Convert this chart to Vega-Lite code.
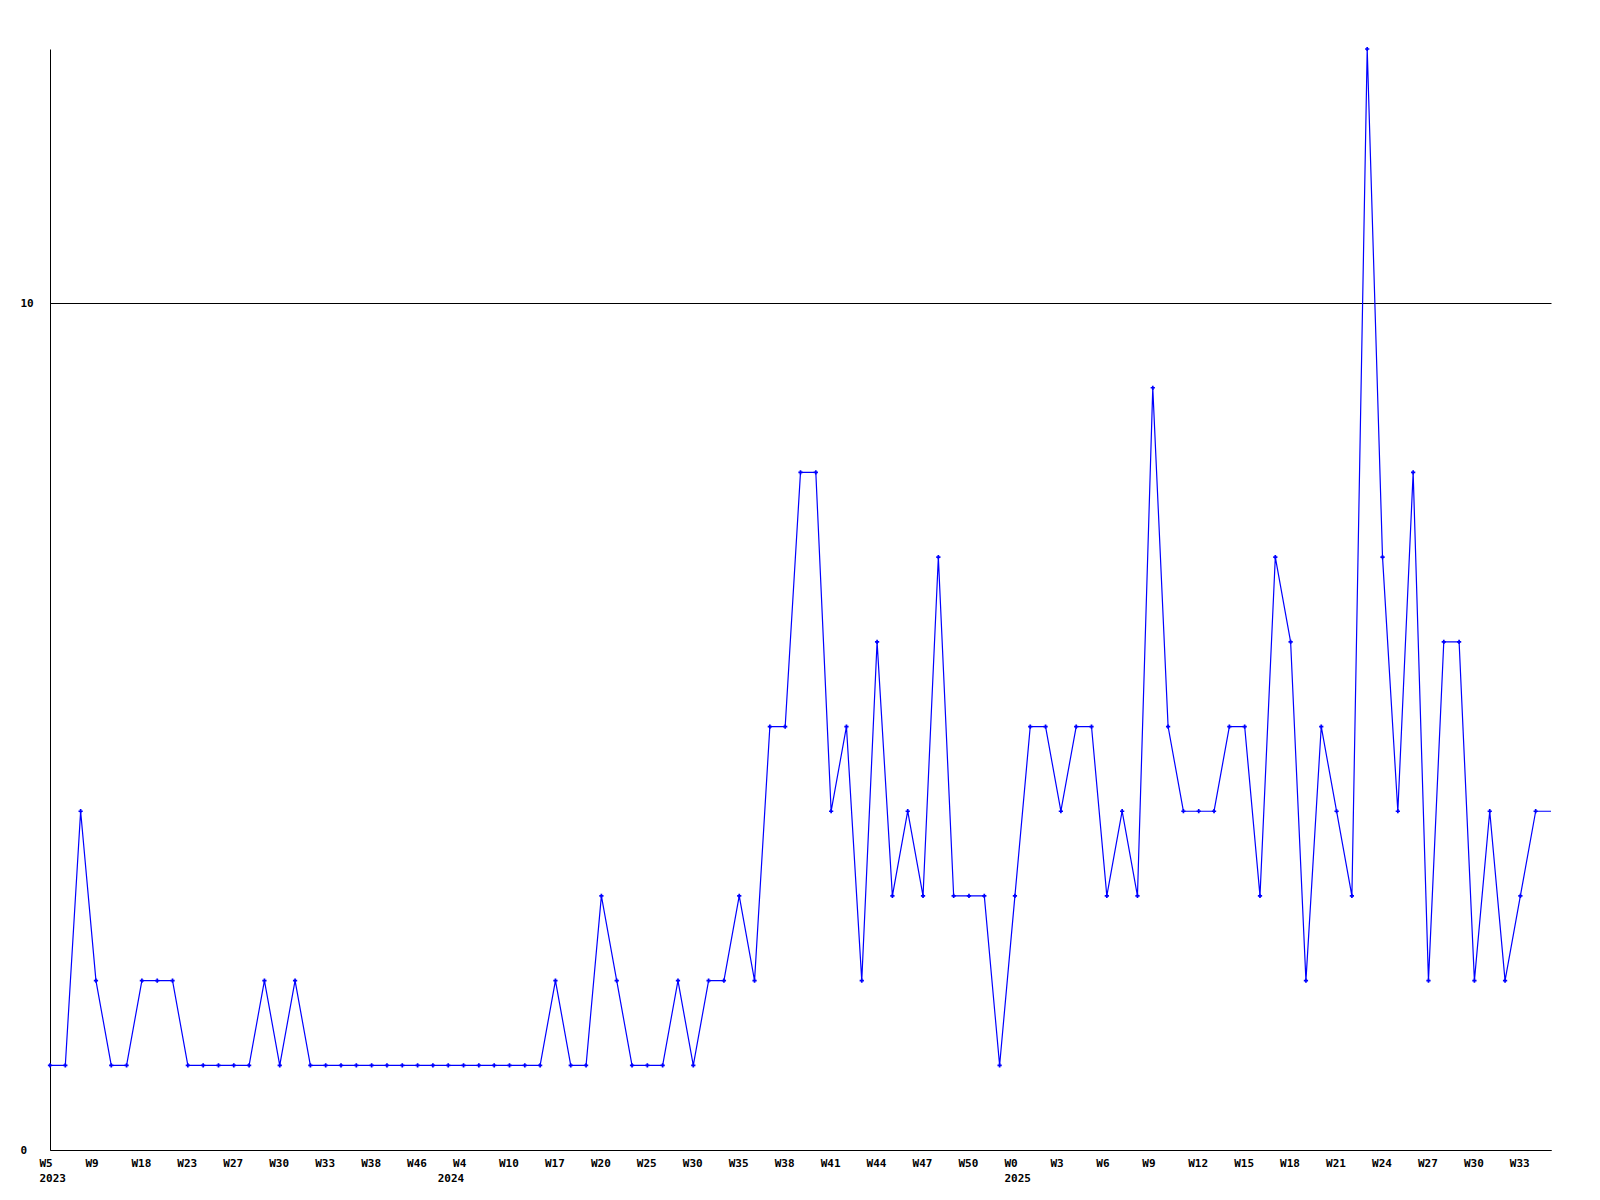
{
  "$schema": "https://vega.github.io/schema/vega-lite/v6.json",
  "width": 1501,
  "height": 1101,
  "autosize": {"type": "none"},
  "padding": {"left": 50, "top": 49, "right": 49, "bottom": 50},
  "background": "white",
  "config": {
    "view": {"stroke": null},
    "axis": {
      "labelFont": "DejaVu Sans Mono",
      "labelFontWeight": "bold",
      "labelFontSize": 11,
      "labelColor": "black",
      "domainColor": "black",
      "domainWidth": 1,
      "ticks": false,
      "title": null
    }
  },
  "data": {
    "values": [
      {"i":0,"key":"2023-W5","v":1,"m":1},
      {"i":1,"key":"2023-W6","v":1,"m":1},
      {"i":2,"key":"2023-W7","v":4,"m":1},
      {"i":3,"key":"2023-W9","v":2,"m":1},
      {"i":4,"key":"2023-W10","v":1,"m":1},
      {"i":5,"key":"2023-W14","v":1,"m":1},
      {"i":6,"key":"2023-W18","v":2,"m":1},
      {"i":7,"key":"2023-W20","v":2,"m":1},
      {"i":8,"key":"2023-W21","v":2,"m":1},
      {"i":9,"key":"2023-W23","v":1,"m":1},
      {"i":10,"key":"2023-W24","v":1,"m":1},
      {"i":11,"key":"2023-W25","v":1,"m":1},
      {"i":12,"key":"2023-W27","v":1,"m":1},
      {"i":13,"key":"2023-W28","v":1,"m":1},
      {"i":14,"key":"2023-W29","v":2,"m":1},
      {"i":15,"key":"2023-W30","v":1,"m":1},
      {"i":16,"key":"2023-W31","v":2,"m":1},
      {"i":17,"key":"2023-W32","v":1,"m":1},
      {"i":18,"key":"2023-W33","v":1,"m":1},
      {"i":19,"key":"2023-W35","v":1,"m":1},
      {"i":20,"key":"2023-W36","v":1,"m":1},
      {"i":21,"key":"2023-W38","v":1,"m":1},
      {"i":22,"key":"2023-W40","v":1,"m":1},
      {"i":23,"key":"2023-W43","v":1,"m":1},
      {"i":24,"key":"2023-W46","v":1,"m":1},
      {"i":25,"key":"2023-W48","v":1,"m":1},
      {"i":26,"key":"2024-W1","v":1,"m":1},
      {"i":27,"key":"2024-W4","v":1,"m":1},
      {"i":28,"key":"2024-W6","v":1,"m":1},
      {"i":29,"key":"2024-W8","v":1,"m":1},
      {"i":30,"key":"2024-W10","v":1,"m":1},
      {"i":31,"key":"2024-W12","v":1,"m":1},
      {"i":32,"key":"2024-W15","v":1,"m":1},
      {"i":33,"key":"2024-W17","v":2,"m":1},
      {"i":34,"key":"2024-W18","v":1,"m":1},
      {"i":35,"key":"2024-W19","v":1,"m":1},
      {"i":36,"key":"2024-W20","v":3,"m":1},
      {"i":37,"key":"2024-W22","v":2,"m":1},
      {"i":38,"key":"2024-W23","v":1,"m":1},
      {"i":39,"key":"2024-W25","v":1,"m":1},
      {"i":40,"key":"2024-W27","v":1,"m":1},
      {"i":41,"key":"2024-W28","v":2,"m":1},
      {"i":42,"key":"2024-W30","v":1,"m":1},
      {"i":43,"key":"2024-W32","v":2,"m":1},
      {"i":44,"key":"2024-W33","v":2,"m":1},
      {"i":45,"key":"2024-W35","v":3,"m":1},
      {"i":46,"key":"2024-W36","v":2,"m":1},
      {"i":47,"key":"2024-W37","v":5,"m":1},
      {"i":48,"key":"2024-W38","v":5,"m":1},
      {"i":49,"key":"2024-W39","v":8,"m":1},
      {"i":50,"key":"2024-W40","v":8,"m":1},
      {"i":51,"key":"2024-W41","v":4,"m":1},
      {"i":52,"key":"2024-W42","v":5,"m":1},
      {"i":53,"key":"2024-W43","v":2,"m":1},
      {"i":54,"key":"2024-W44","v":6,"m":1},
      {"i":55,"key":"2024-W45","v":3,"m":1},
      {"i":56,"key":"2024-W46","v":4,"m":1},
      {"i":57,"key":"2024-W47","v":3,"m":1},
      {"i":58,"key":"2024-W48","v":7,"m":1},
      {"i":59,"key":"2024-W49","v":3,"m":1},
      {"i":60,"key":"2024-W50","v":3,"m":1},
      {"i":61,"key":"2024-W51","v":3,"m":1},
      {"i":62,"key":"2024-W52","v":1,"m":1},
      {"i":63,"key":"2025-W0","v":3,"m":1},
      {"i":64,"key":"2025-W1","v":5,"m":1},
      {"i":65,"key":"2025-W2","v":5,"m":1},
      {"i":66,"key":"2025-W3","v":4,"m":1},
      {"i":67,"key":"2025-W4","v":5,"m":1},
      {"i":68,"key":"2025-W5","v":5,"m":1},
      {"i":69,"key":"2025-W6","v":3,"m":1},
      {"i":70,"key":"2025-W7","v":4,"m":1},
      {"i":71,"key":"2025-W8","v":3,"m":1},
      {"i":72,"key":"2025-W9","v":9,"m":1},
      {"i":73,"key":"2025-W10","v":5,"m":1},
      {"i":74,"key":"2025-W11","v":4,"m":1},
      {"i":75,"key":"2025-W12","v":4,"m":1},
      {"i":76,"key":"2025-W13","v":4,"m":1},
      {"i":77,"key":"2025-W14","v":5,"m":1},
      {"i":78,"key":"2025-W15","v":5,"m":1},
      {"i":79,"key":"2025-W16","v":3,"m":1},
      {"i":80,"key":"2025-W17","v":7,"m":1},
      {"i":81,"key":"2025-W18","v":6,"m":1},
      {"i":82,"key":"2025-W19","v":2,"m":1},
      {"i":83,"key":"2025-W20","v":5,"m":1},
      {"i":84,"key":"2025-W21","v":4,"m":1},
      {"i":85,"key":"2025-W22","v":3,"m":1},
      {"i":86,"key":"2025-W23","v":13,"m":1},
      {"i":87,"key":"2025-W24","v":7,"m":1},
      {"i":88,"key":"2025-W25","v":4,"m":1},
      {"i":89,"key":"2025-W26","v":8,"m":1},
      {"i":90,"key":"2025-W27","v":2,"m":1},
      {"i":91,"key":"2025-W28","v":6,"m":1},
      {"i":92,"key":"2025-W29","v":6,"m":1},
      {"i":93,"key":"2025-W30","v":2,"m":1},
      {"i":94,"key":"2025-W31","v":4,"m":1},
      {"i":95,"key":"2025-W32","v":2,"m":1},
      {"i":96,"key":"2025-W33","v":3,"m":1},
      {"i":97,"key":"2025-W34","v":4,"m":1},
      {"i":98,"key":"2025-W35","v":4,"m":0}
    ]
  },
  "encoding": {
    "x": {
      "field": "key",
      "type": "ordinal",
      "sort": {"field": "i"},
      "scale": {"type": "point", "padding": 0},
      "axis": {
        "labelAngle": 0,
        "labelAlign": "left",
        "labelOffset": -11,
        "labelPadding": 7,
        "labelBaseline": "top",
        "labelLineHeight": 15,
        "labelOverlap": false,
        "labelBound": false,
        "values": ["2023-W5","2023-W9","2023-W18","2023-W23","2023-W27","2023-W30","2023-W33","2023-W38","2023-W46","2024-W1","2024-W4","2024-W10","2024-W17","2024-W20","2024-W25","2024-W30","2024-W35","2024-W38","2024-W41","2024-W44","2024-W47","2024-W50","2025-W0","2025-W3","2025-W6","2025-W9","2025-W12","2025-W15","2025-W18","2025-W21","2025-W24","2025-W27","2025-W30","2025-W33"],
        "labelExpr": "datum.value == '2024-W1' ? ['', '2024'] : (datum.value == '2023-W5' || datum.value == '2025-W0') ? [split(datum.value,'-')[1], split(datum.value,'-')[0]] : split(datum.value,'-')[1]"
      }
    },
    "y": {
      "field": "v",
      "type": "quantitative",
      "scale": {"domain": [0, 13], "nice": false, "zero": true},
      "axis": {
        "values": [0, 10],
        "grid": true,
        "gridColor": "black",
        "gridOpacity": 1,
        "gridWidth": 1,
        "labelAlign": "left",
        "labelPadding": 30
      }
    }
  },
  "layer": [
    {
      "mark": {"type": "line", "color": "#0000ff", "strokeWidth": 1.2, "clip": false}
    },
    {
      "transform": [{"filter": "datum.m == 1"}],
      "mark": {"type": "point", "shape": "cross", "filled": true, "color": "#0000ff", "size": 18, "opacity": 1}
    }
  ]
}
